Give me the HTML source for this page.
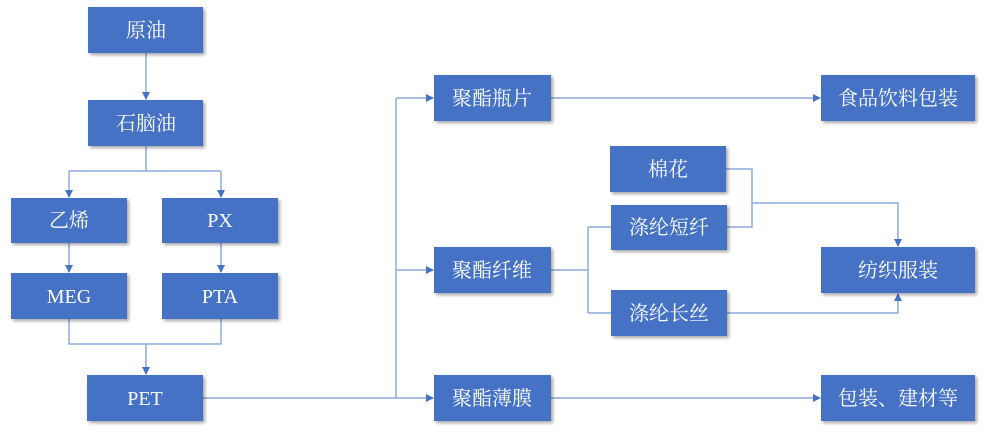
<!DOCTYPE html>
<html><head><meta charset="utf-8"><style>
body{margin:0;background:#fff;width:984px;height:435px;overflow:hidden;}
svg text{font-family:"Liberation Serif","Noto Serif CJK SC",serif;font-size:20px;fill:#fff;text-anchor:middle;dominant-baseline:central;}
</style></head><body>
<svg width="984" height="435" xmlns="http://www.w3.org/2000/svg">
<defs>
<marker id="a" markerWidth="8" markerHeight="8" refX="7" refY="4" orient="auto" markerUnits="userSpaceOnUse"><path d="M0,0 L8,4 L0,8 z" fill="#4472c4"/></marker>
<filter id="s" x="-10%" y="-10%" width="130%" height="140%"><feDropShadow dx="2" dy="2" stdDeviation="1.5" flood-color="#000" flood-opacity="0.35"/></filter>
</defs>
<g stroke="#8eaadb" stroke-width="1.5" fill="none">
<path d="M146 53 V99" marker-end="url(#a)"/>
<path d="M146 146 V171 M69 171 H221"/>
<path d="M69 171 V197" marker-end="url(#a)"/>
<path d="M221 171 V197" marker-end="url(#a)"/>
<path d="M69 243 V272" marker-end="url(#a)"/>
<path d="M221 243 V272" marker-end="url(#a)"/>
<path d="M69 319 V344 H221 V319 M146 344 V374" marker-end="url(#a)"/>
<path d="M203 398 H396 M396 98 V398"/>
<path d="M396 98 H433" marker-end="url(#a)"/>
<path d="M396 270 H433" marker-end="url(#a)"/>
<path d="M396 398 H433" marker-end="url(#a)"/>
<path d="M551 98 H820" marker-end="url(#a)"/>
<path d="M551 398 H820" marker-end="url(#a)"/>
<path d="M551 270 H588 M588 227 V313 M588 227 H611 M588 313 H611"/>
<path d="M726 169 H752 V227 H727 M752 203 H898 V246" marker-end="url(#a)"/>
<path d="M727 313 H898 V294" marker-end="url(#a)"/>
</g>
<g fill="#4472c4" filter="url(#s)">
<rect x="88" y="7" width="115" height="46"/>
<rect x="88" y="100" width="115" height="46"/>
<rect x="11" y="198" width="116" height="45"/>
<rect x="162" y="198" width="116" height="45"/>
<rect x="11" y="273" width="116" height="46"/>
<rect x="162" y="273" width="116" height="46"/>
<rect x="87" y="375" width="116" height="46"/>
<rect x="434" y="75" width="117" height="46"/>
<rect x="434" y="247" width="117" height="46"/>
<rect x="434" y="375" width="117" height="46"/>
<rect x="610" y="146" width="116" height="46"/>
<rect x="611" y="205" width="116" height="45"/>
<rect x="611" y="290" width="116" height="46"/>
<rect x="821" y="75" width="154" height="46"/>
<rect x="821" y="247" width="154" height="46"/>
<rect x="821" y="375" width="154" height="46"/>
</g>
<text x="146" y="31">原油</text>
<text x="146" y="124">石脑油</text>
<text x="69" y="221">乙烯</text>
<text x="220" y="221">PX</text>
<text x="69" y="297">MEG</text>
<text x="220" y="297">PTA</text>
<text x="145" y="399">PET</text>
<text x="492" y="99">聚酯瓶片</text>
<text x="492" y="271">聚酯纤维</text>
<text x="492" y="399">聚酯薄膜</text>
<text x="668" y="170">棉花</text>
<text x="669" y="228">涤纶短纤</text>
<text x="669" y="314">涤纶长丝</text>
<text x="898" y="99">食品饮料包装</text>
<text x="898" y="271">纺织服装</text>
<text x="898" y="399">包装、建材等</text>
</svg>
</body></html>
